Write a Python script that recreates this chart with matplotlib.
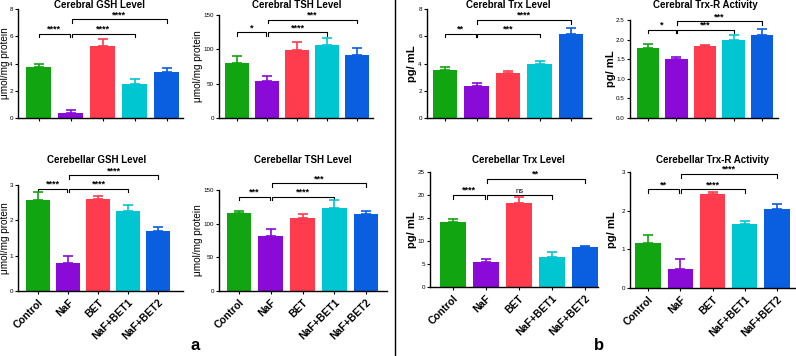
import numpy as np
import matplotlib.pyplot as plt

plt.rcParams['font.family'] = ['Liberation Sans', 'DejaVu Sans']

groups = ['Control', 'NaF', 'BET', 'NaF+BET1', 'NaF+BET2']
colors = ['#12a512', '#8a0ad8', '#ff3b4e', '#00c6d2', '#0a5fe0']

# values and upper error (SD)
cer_gsh = [3.75, 0.35, 5.3, 2.5, 3.4]
cer_gsh_err = [0.2, 0.25, 0.5, 0.35, 0.3]
cer_tsh = [80, 54, 99, 107, 92]
cer_tsh_err = [10, 7, 11, 10, 10]
cer_trx = [3.5, 2.35, 3.3, 4.0, 6.2]
cer_trx_err = [0.25, 0.25, 0.18, 0.22, 0.38]
cer_trxr = [1.79, 1.51, 1.83, 2.0, 2.12]
cer_trxr_err = [0.1, 0.05, 0.04, 0.13, 0.15]

cbl_gsh = [2.57, 0.8, 2.6, 2.27, 1.7]
cbl_gsh_err = [0.22, 0.2, 0.1, 0.17, 0.12]
cbl_tsh = [116, 82, 109, 123, 115]
cbl_tsh_err = [3, 10, 5, 12, 4]
cbl_trx = [14.2, 5.4, 18.3, 6.6, 8.7]
cbl_trx_err = [0.6, 0.6, 1.3, 1.0, 0.3]
cbl_trxr = [1.17, 0.49, 2.43, 1.66, 2.04]
cbl_trxr_err = [0.2, 0.25, 0.05, 0.07, 0.12]

# significance marks: (NaF vs Control, NaF vs NaF+BET1, NaF vs NaF+BET2)
cer_gsh_sig = ['****', '****', '****']
cer_tsh_sig = ['*', '****', '***']
cer_trx_sig = ['**', '***', '****']
cer_trxr_sig = ['*', '***', '***']
cbl_gsh_sig = ['****', '****', '****']
cbl_tsh_sig = ['***', '****', '***']
cbl_trx_sig = ['****', 'ns', '**']
cbl_trxr_sig = ['**', '****', '****']

W, H = 796, 356
fig = plt.figure(figsize=(W / 100, H / 100), dpi=100)


def make_ax(x0, x1, ytop, ybot):
    return fig.add_axes([x0 / W, 1 - ybot / H, (x1 - x0) / W, (ybot - ytop) / H])


def bracket(ax, a, b, y, h, txt):
    ax.plot([a, a, b, b], [y - h, y, y, y - h], color='black', lw=0.8, clip_on=False)
    fs = 5.5 if txt == 'ns' else 6.5
    ax.text((a + b) / 2, y, txt, ha='center', va='bottom', fontsize=fs,
            fontweight='normal' if txt == 'ns' else 'bold', clip_on=False)


def panel(box, vals, errs, sig, ymax, yticks, xlims, title, title_xy, ylabel, ylab_x,
          sig_y, sig_y2, bottom_row, fmt='%d'):
    ax = make_ax(*box)
    x = np.arange(len(groups))
    ax.bar(x, vals, width=0.78, color=colors, zorder=2)
    for i in range(len(groups)):
        ax.errorbar(x[i], vals[i], yerr=[[0], [errs[i]]], color=colors[i],
                    capsize=3.5, elinewidth=1.2, capthick=1.2, zorder=3)
    ax.set_xlim(*xlims)
    ax.set_ylim(0, ymax)
    ax.set_yticks(yticks)
    ax.set_yticklabels([fmt % t for t in yticks], fontsize=4.5)
    ax.set_xticks(x)
    if bottom_row:
        ax.set_xticklabels(groups, rotation=45, ha='right', rotation_mode='anchor',
                           fontsize=7.5, fontweight='bold')
    else:
        ax.set_xticklabels([])
    ax.tick_params(axis='both', length=2.5, width=0.8, pad=1.2)
    ax.tick_params(axis='x', pad=2)
    for s in ['top', 'right']:
        ax.spines[s].set_visible(False)
    for s in ['left', 'bottom']:
        ax.spines[s].set_linewidth(1.0)
    h = ymax * 0.035
    bracket(ax, 0, 0.97, sig_y, h, sig[0])
    bracket(ax, 1.03, 3, sig_y, h, sig[1])
    bracket(ax, 1.03, 4, sig_y2, h, sig[2])
    fig.text(title_xy[0] / W, 1 - title_xy[1] / H, title, ha='center', va='center',
             fontsize=7, fontweight='bold')
    mid = (box[2] + box[3]) / 2
    if ylabel.startswith('μ'):
        fig.text(ylab_x / W, 1 - mid / H, ylabel, rotation=90, ha='center', va='center',
                 fontsize=7.2)
    else:
        fig.text(ylab_x / W, 1 - mid / H, ylabel, rotation=90, ha='center', va='center',
                 fontsize=8, fontweight='bold')
    return ax


ul = 'μmol/mg protein'
pg = 'pg/ mL'

# top row (cerebral)
panel((18, 183, 9, 118), cer_gsh, cer_gsh_err, cer_gsh_sig, 8, [0, 2, 4, 6, 8],
      (-0.65, 4.5), 'Cerebral GSH Level', (100, 5), ul, 5, 6.2, 7.25, False)
panel((219, 373, 15, 118), cer_tsh, cer_tsh_err, cer_tsh_sig, 150, [0, 50, 100, 150],
      (-0.6, 4.53), 'Cerebral TSH Level', (297, 5), ul, 198, 125, 143, False)
panel((427, 591, 9, 118), cer_trx, cer_trx_err, cer_trx_sig, 8, [0, 2, 4, 6, 8],
      (-0.57, 4.63), 'Cerebral Trx Level', (508, 5), pg, 412, 6.2, 7.2, False)
panel((630, 778, 20, 118), cer_trxr, cer_trxr_err, cer_trxr_sig, 2.5,
      [0.0, 0.5, 1.0, 1.5, 2.0, 2.5], (-0.63, 4.56), 'Cerebral Trx-R Activity', (705, 5),
      pg, 611, 2.25, 2.47, False, fmt='%.1f')

# bottom row (cerebellar)
panel((18, 183, 185, 291), cbl_gsh, cbl_gsh_err, cbl_gsh_sig, 3, [0, 1, 2, 3],
      (-0.67, 4.83), 'Cerebellar GSH Level', (97, 160), ul, 5, 2.9, 3.28, True)
panel((219, 387, 190, 291), cbl_tsh, cbl_tsh_err, cbl_tsh_sig, 150, [0, 50, 100, 150],
      (-0.63, 4.66), 'Cerebellar TSH Level', (303, 160), ul, 198, 140, 160, True)
panel((430, 598, 172, 287), cbl_trx, cbl_trx_err, cbl_trx_sig, 25, [0, 5, 10, 15, 20, 25],
      (-0.7, 4.4), 'Cerebellar Trx Level', (518, 160), pg, 412, 20, 23.5, True)
panel((630, 795, 172, 288), cbl_trxr, cbl_trxr_err, cbl_trxr_sig, 3, [0, 1, 2, 3],
      (-0.56, 4.56), 'Cerebellar Trx-R Activity', (712, 160), pg, 612, 2.55, 2.95, True)

# divider and panel letters
fig.add_artist(plt.Line2D([395 / W, 395 / W], [0, 1], color='black', lw=1.0))
fig.text(195 / W, 1 - 345 / H, 'a', ha='center', va='center', fontsize=12, fontweight='bold')
fig.text(599 / W, 1 - 346 / H, 'b', ha='center', va='center', fontsize=12, fontweight='bold')

fig.savefig('out.png', dpi=100)
